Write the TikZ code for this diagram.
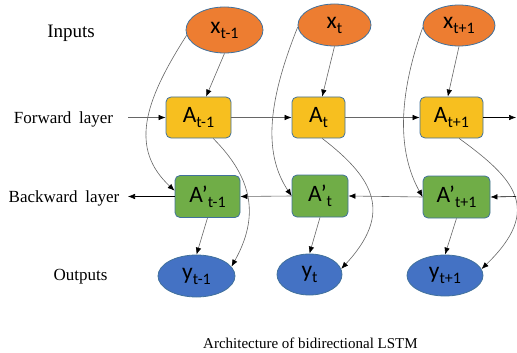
\documentclass[tikz,border=0pt]{standalone}
\usepackage{fontspec}
\setmainfont{Liberation Serif}
\newfontfamily\calib{Carlito}
\usetikzlibrary{arrows.meta, shapes, positioning}
\definecolor{xorange}{HTML}{ED7D31}
\definecolor{rimblue}{HTML}{41719C}
\definecolor{ayellow}{HTML}{F7BF1F}
\definecolor{agreen}{HTML}{70AD47}
\definecolor{yblue}{HTML}{4472C4}
\newcommand{\lsub}[1]{\raisebox{-5pt}{\fontsize{16}{16}\selectfont #1}}
\tikzset{
    inp/.style={ellipse, draw=rimblue, fill=xorange, line width=0.8pt, inner sep=0pt,
        font=\calib\fontsize{23.5}{23.5}\selectfont},
    outp/.style={inp, fill=yblue},
    fwd/.style={rectangle, rounded corners=5pt, draw=rimblue, fill=ayellow, line width=0.8pt,
        inner sep=0pt, minimum height=41pt, font=\calib\fontsize{23.5}{23.5}\selectfont},
    bwd/.style={fwd, fill=agreen, minimum height=42pt},
    lbl/.style={anchor=base, inner sep=0pt, font=\fontsize{17}{17}\selectfont},
    conn/.style={draw=black!60, line width=0.6pt, -{Latex[length=7pt,width=5.5pt,color=black]}}
}
\begin{document}
\begin{tikzpicture}[x=1pt, y=-1pt]
    \useasboundingbox (0,0) rectangle (517,353);
    % inputs
    \node[inp, minimum width=77pt, minimum height=46pt] (x1) at (224.5,30) {x\lsub{t-1}};
    \node[inp, minimum width=73pt, minimum height=42pt] (x2) at (334.5,25) {x\lsub{t}};
    \node[inp, minimum width=72pt, minimum height=41pt] (x3) at (459,25.5) {x\lsub{t+1}};
    % forward layer
    \node[fwd, minimum width=65pt] (A1) at (198.5,117.5) {A\lsub{t-1}};
    \node[fwd, minimum width=53pt] (A2) at (318.5,117.5) {A\lsub{t}};
    \node[fwd, minimum width=63pt] (A3) at (451.5,117.5) {A\lsub{t+1}};
    % backward layer
    \node[bwd, minimum width=65pt] (B1) at (207.5,196.5) {A’\lsub{t-1}};
    \node[bwd, minimum width=56pt] (B2) at (320,196) {A’\lsub{t}};
    \node[bwd, minimum width=67pt] (B3) at (456.5,197) {A’\lsub{t+1}};
    % outputs
    \node[outp, minimum width=77pt, minimum height=42pt] (y1) at (196.5,276) {y\lsub{t-1}};
    \node[outp, minimum width=65pt, minimum height=41pt] (y2) at (309.5,274.5) {y\lsub{t}};
    \node[outp, minimum width=76pt, minimum height=41pt] (y3) at (445,275.5) {y\lsub{t+1}};
    % side labels
    \node[lbl, font=\fontsize{19}{19}\selectfont] (linp) at (71,38) {Inputs};
    \node[lbl] (lfwd) at (63.5,124) {Forward\hspace{0.45em}layer};
    \node[lbl] (lbwd) at (64,202) {Backward\hspace{0.45em}layer};
    \node[lbl] (lout) at (80.5,280) {Outputs};
    \node[lbl, anchor=base west, font=\fontsize{15}{15}\selectfont] (cap) at (203,348) {Architecture of bidirectional LSTM};
    \coordinate (fin) at (128,117.5);
    \coordinate (fout) at (516,117.5);
    \coordinate (bin) at (516,196.5);
    \coordinate (bout) at (128,196.5);
    \draw[conn] (fin) -- (A1.west);
    \draw[conn] (A1.east) -- (A2.west);
    \draw[conn] (A2.east) -- (A3.west);
    \draw[conn, draw=black] (A3.east) -- (fout);
    \draw[conn, draw=black] (bin) -- (B3.east);
    \draw[conn] (B3.west) -- (B2.east);
    \draw[conn] (B2.west) -- (B1.east);
    \draw[conn, draw=black] (B1.west) -- (bout);
    \draw[conn] (x1.south) -- (A1.70);
    \draw[conn] (x2.south) -- (A2.80);
    \draw[conn] (x3.south) -- (A3.100);
    \draw[conn] (B1.south) -- (y1.north);
    \draw[conn] (B2.south) -- (y2.north);
    \draw[conn] (B3.south) -- (y3.north);
    \draw[conn] (x1.188) .. controls +(-43,67) and +(-45,-42) .. (B1.170);
    \draw[conn] (x2.183) .. controls +(-28,70) and +(-30,-45) .. (B2.west);
    \draw[conn] (x3.183) .. controls +(-25,70) and +(-25,-45) .. (B3.west);
    \draw[conn] (A1.-55) .. controls +(40,40) and +(28,-50) .. (y1.15);
    \draw[conn] (A2.-80) .. controls +(52,40) and +(52,-56) .. (y2.10);
    \draw[conn] (A3.-70) .. controls +(55,40) and +(62,-60) .. (y3.10);
\end{tikzpicture}
\end{document}
